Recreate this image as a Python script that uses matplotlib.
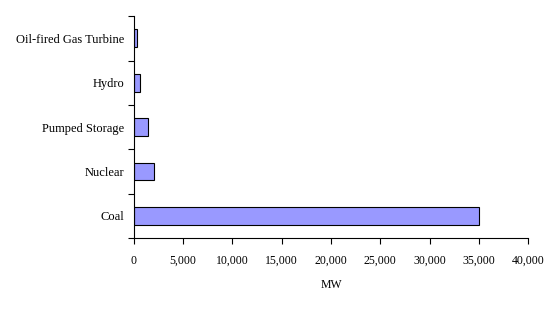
import matplotlib
matplotlib.use("Agg")
import matplotlib.pyplot as plt
from matplotlib.ticker import FuncFormatter
import numpy as np

categories = ["Coal", "Nuclear", "Pumped Storage", "Hydro", "Oil-fired Gas Turbine"]
values = [35000, 2000, 1450, 630, 350]
xticks = [0, 5000, 10000, 15000, 20000, 25000, 30000, 35000, 40000]

plt.rcParams['font.family'] = ['Liberation Serif', 'DejaVu Serif']
fig = plt.figure(figsize=(5.6, 3.1), dpi=100)
ax = fig.add_axes([0.239, 0.232, 0.704, 0.716])

y = np.arange(len(categories))
ax.barh(y, values, height=0.4, color="#9999FF", edgecolor="black", linewidth=0.8)
ax.set_xlim(0, 40000)
ax.set_ylim(-0.5, len(categories) - 0.5)
ax.set_xticks(xticks)
ax.xaxis.set_major_formatter(FuncFormatter(lambda v, p: f"{int(v):,}"))
ax.set_yticks(np.arange(-0.5, len(categories), 1.0))
ax.set_yticklabels([])
ax.set_yticks(y, minor=True)
ax.set_yticklabels(categories, minor=True)
ax.tick_params(axis='y', which='minor', length=0, pad=7, labelsize=9)
ax.tick_params(axis='y', which='major', length=4, direction='out', width=0.8)
ax.tick_params(axis='x', length=4, direction='out', width=0.8, labelsize=8.5, pad=8)
for s in ["top", "right"]:
    ax.spines[s].set_visible(False)
for s in ["left", "bottom"]:
    ax.spines[s].set_linewidth(0.8)
ax.set_xlabel("MW", fontsize=8.5, labelpad=9)
fig.savefig("out.png", dpi=100)
